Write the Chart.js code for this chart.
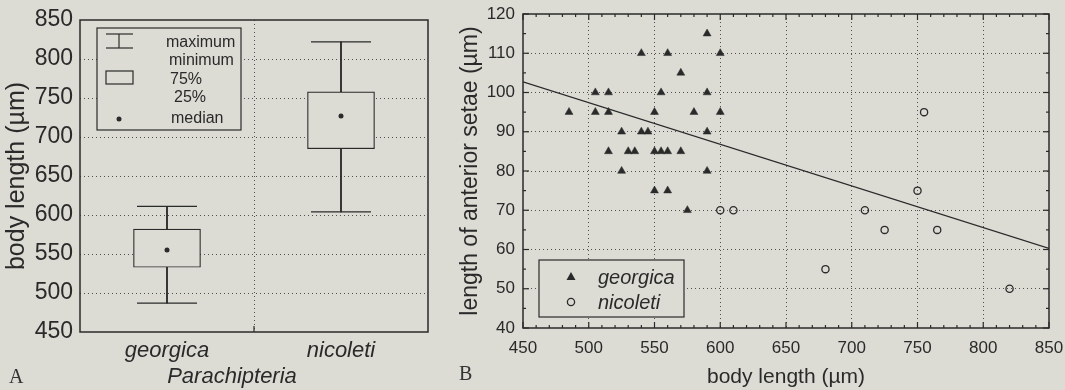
<!DOCTYPE html>
<html>
<head>
<meta charset="utf-8">
<script src="https://cdn.jsdelivr.net/npm/chart.js@4.4.1/dist/chart.umd.min.js"></script>
<style>
  html, body { margin: 0; padding: 0; background: #dcdcd5; }
  #wrap { position: relative; width: 1065px; height: 390px; overflow: hidden; }
  .panel { position: absolute; top: 0; height: 390px; }
  #panelA { left: 0; width: 445px; }
  #panelB { left: 445px; width: 620px; }
  .tag { position: absolute; font-family: "Liberation Serif", "DejaVu Serif", serif; font-size: 20px; color: #333; }
</style>
</head>
<body>
<div id="wrap">
  <div class="panel" id="panelA"><canvas id="chartA"></canvas></div>
  <div class="panel" id="panelB"><canvas id="chartB"></canvas></div>
  <div class="tag" style="left:9px; top:365px">A</div>
  <div class="tag" style="left:459px; top:362px">B</div>
</div>
<script>
// panel A: body length box plot
const species = ["georgica", "nicoleti"];
const bodyMin = [487, 604];
const bodyQ1 = [533, 685];
const bodyMedian = [555, 727];
const bodyQ3 = [582, 758];
const bodyMax = [611, 822];
const bodyTicks = [450, 850, 50];

// panel B: setae length vs body length
const georgicaBody = [590, 540, 560, 600, 570, 505, 515, 555, 590, 485, 505, 515, 550, 580, 600,
  525, 540, 545, 590, 515, 530, 535, 550, 555, 560, 570, 525, 590, 550, 560, 575];
const georgicaSetae = [115, 110, 110, 110, 105, 100, 100, 100, 100, 95, 95, 95, 95, 95, 95,
  90, 90, 90, 90, 85, 85, 85, 85, 85, 85, 85, 80, 80, 75, 75, 70];
const nicoletiBody = [600, 610, 710, 725, 765, 750, 755, 680, 820];
const nicoletiSetae = [70, 70, 70, 65, 65, 75, 95, 55, 50];
const fitBody = [450, 850];
const fitSetae = [102.7, 60.3];
const xTicksB = [450, 850, 50];
const yTicksB = [40, 120, 10];

const BG = "#dcdcd5";
const INK = "#2a2a2a";
const GRID = "#505050";
const FONT = '"Liberation Sans", Arial, sans-serif';

Chart.defaults.font.family = FONT;
Chart.defaults.color = INK;

// the wide whisker caps would otherwise push the plot area inwards
Chart.LineController.prototype.getMaxOverflow = function () { return 0; };

function line(ctx, x1, y1, x2, y2) {
  ctx.beginPath();
  ctx.moveTo(x1, y1);
  ctx.lineTo(x2, y2);
  ctx.stroke();
}

// fixed axis size, and no extra label padding so the plot area is set by layout.padding
function fixSize(w, h) {
  return s => {
    if (w) s.width = w;
    if (h) s.height = h;
    s.paddingTop = s.paddingBottom = s.paddingLeft = s.paddingRight = 0;
  };
}

// frame round the plot area plus small inward ticks
const framePlugin = {
  id: "frame",
  afterDatasetsDraw(chart, args, opts) {
    const { ctx, chartArea: a } = chart;
    ctx.save();
    ctx.strokeStyle = INK;
    ctx.lineWidth = 1.5;
    ctx.strokeRect(a.left, a.top, a.right - a.left, a.bottom - a.top);
    ctx.lineWidth = 1.2;
    (opts.ticks || []).forEach(t => {
      const s = chart.scales[t.axis];
      for (let v = t.from; v <= t.to; v += t.step) {
        const len = (t.major && (v - t.from) % t.major === 0) ? 6 : 3;
        const p = s.getPixelForValue(v);
        if (t.axis === "x") {
          line(ctx, p, a.bottom, p, a.bottom - len);
          if (t.both) line(ctx, p, a.top, p, a.top + len);
        } else {
          line(ctx, a.left, p, a.left + len, p);
          if (t.both) line(ctx, a.right, p, a.right - len, p);
        }
      }
    });
    ctx.restore();
  }
};

// legend of the box plot, drawn inside the plot area
const boxLegendPlugin = {
  id: "boxLegend",
  afterDatasetsDraw(chart) {
    const { ctx, chartArea: a } = chart;
    const x0 = a.left + 17, y0 = a.top + 8;
    ctx.save();
    ctx.fillStyle = BG;
    ctx.fillRect(x0, y0, 144, 102);
    ctx.strokeStyle = INK;
    ctx.lineWidth = 1.2;
    ctx.strokeRect(x0, y0, 144, 102);
    // whisker symbol
    line(ctx, x0 + 9, y0 + 6, x0 + 36, y0 + 6);
    line(ctx, x0 + 9, y0 + 20, x0 + 36, y0 + 20);
    line(ctx, x0 + 22, y0 + 6, x0 + 22, y0 + 20);
    // box symbol
    ctx.strokeRect(x0 + 9, y0 + 43, 27, 13);
    // median symbol
    ctx.fillStyle = INK;
    ctx.beginPath();
    ctx.arc(x0 + 22, y0 + 91, 2.5, 0, Math.PI * 2);
    ctx.fill();
    ctx.font = "16px " + FONT;
    ctx.textBaseline = "middle";
    ctx.fillText("maximum", x0 + 69, y0 + 15);
    ctx.fillText("minimum", x0 + 72, y0 + 33);
    ctx.fillText("75%", x0 + 73, y0 + 52);
    ctx.fillText("25%", x0 + 77, y0 + 70);
    ctx.fillText("median", x0 + 74, y0 + 91);
    // tick between the two groups
    const mid = chart.scales.x.getPixelForValue(0.5);
    line(ctx, mid, a.bottom, mid, a.bottom - 6);
    ctx.restore();
  }
};

// legend of the scatter plot
const scatterLegendPlugin = {
  id: "scatterLegend",
  afterDatasetsDraw(chart) {
    const { ctx, chartArea: a } = chart;
    const x0 = a.left + 16, y0 = a.bottom - 68;
    ctx.save();
    ctx.fillStyle = BG;
    ctx.fillRect(x0, y0, 145, 57);
    ctx.strokeStyle = INK;
    ctx.lineWidth = 1.2;
    ctx.strokeRect(x0, y0, 145, 57);
    const px = x0 + 32;
    // triangle
    ctx.fillStyle = INK;
    ctx.beginPath();
    ctx.moveTo(px, y0 + 12);
    ctx.lineTo(px + 4.5, y0 + 20);
    ctx.lineTo(px - 4.5, y0 + 20);
    ctx.closePath();
    ctx.fill();
    // circle
    ctx.lineWidth = 1.3;
    ctx.beginPath();
    ctx.arc(px, y0 + 42, 3.6, 0, Math.PI * 2);
    ctx.stroke();
    ctx.font = "italic 20px " + FONT;
    ctx.textBaseline = "middle";
    ctx.fillText("georgica", x0 + 59, y0 + 18);
    ctx.fillText("nicoleti", x0 + 59, y0 + 43);
    ctx.restore();
  }
};

const dotted = { dash: [1, 3], display: false };

new Chart(document.getElementById("chartA"), {
  data: {
    labels: species,
    datasets: [
      {
        type: "bar",
        data: species.map((_, i) => [bodyQ3[i], bodyMax[i]]),
        backgroundColor: INK,
        barThickness: 1.2,
        grouped: false,
        order: 3
      },
      {
        type: "bar",
        data: species.map((_, i) => [bodyMin[i], bodyQ1[i]]),
        backgroundColor: INK,
        barThickness: 1.2,
        grouped: false,
        order: 3
      },
      {
        type: "bar",
        data: species.map((_, i) => [bodyQ1[i], bodyQ3[i]]),
        backgroundColor: BG,
        borderColor: INK,
        borderWidth: 1.2,
        borderSkipped: false,
        barThickness: 67,
        grouped: false,
        order: 2
      },
      {
        type: "line",
        data: bodyMax,
        showLine: false,
        pointStyle: "line",
        pointRadius: 30,
        pointBorderWidth: 1.2,
        pointBorderColor: INK,
        order: 1
      },
      {
        type: "line",
        data: bodyMin,
        showLine: false,
        pointStyle: "line",
        pointRadius: 30,
        pointBorderWidth: 1.2,
        pointBorderColor: INK,
        order: 1
      },
      {
        type: "line",
        data: bodyMedian,
        showLine: false,
        pointStyle: "circle",
        pointRadius: 2.5,
        pointBorderWidth: 0,
        pointBackgroundColor: INK,
        order: 0
      }
    ]
  },
  options: {
    responsive: true,
    maintainAspectRatio: false,
    animation: false,
    events: [],
    layout: { padding: { top: 20, right: 17, left: 0, bottom: 0 } },
    plugins: {
      legend: { display: false },
      tooltip: { enabled: false },
      frame: { ticks: [] }
    },
    scales: {
      x: {
        offset: true,
        grid: {
          offset: true,
          drawTicks: false,
          color: ctx => ctx.index === 1 ? GRID : "transparent"
        },
        border: dotted,
        ticks: { font: { size: 22, style: "italic" }, padding: 6, color: INK },
        title: {
          display: true,
          // trailing em spaces nudge the centred title to the left, as in the original
          text: "Parachipteria\u2003\u2003",
          font: { size: 22, style: "italic" },
          padding: { top: 0, bottom: 0 },
          color: INK
        },
        afterFit: fixSize(0, 58)
      },
      y: {
        min: bodyTicks[0],
        max: bodyTicks[1],
        ticks: { stepSize: bodyTicks[2], font: { size: 23 }, padding: 7, color: INK },
        grid: {
          drawTicks: false,
          color: ctx => (ctx.tick.value === bodyTicks[0] || ctx.tick.value === bodyTicks[1]) ? "transparent" : GRID
        },
        border: dotted,
        title: {
          display: true,
          text: "body length (µm)",
          font: { size: 25 },
          padding: { top: 2, bottom: 0 },
          color: INK
        },
        afterFit: fixSize(80, 0)
      }
    }
  },
  plugins: [framePlugin, boxLegendPlugin]
});

new Chart(document.getElementById("chartB"), {
  type: "scatter",
  data: {
    datasets: [
      {
        type: "line",
        data: fitBody.map((x, i) => ({ x, y: fitSetae[i] })),
        borderColor: INK,
        borderWidth: 1.3,
        pointRadius: 0,
        order: 2
      },
      {
        label: "georgica",
        data: georgicaBody.map((x, i) => ({ x, y: georgicaSetae[i] })),
        pointStyle: "triangle",
        pointRadius: 4.6,
        backgroundColor: INK,
        borderColor: INK,
        borderWidth: 0.5,
        order: 1
      },
      {
        label: "nicoleti",
        data: nicoletiBody.map((x, i) => ({ x, y: nicoletiSetae[i] })),
        pointStyle: "circle",
        pointRadius: 3.6,
        backgroundColor: "transparent",
        borderColor: INK,
        borderWidth: 1.3,
        order: 1
      }
    ]
  },
  options: {
    responsive: true,
    maintainAspectRatio: false,
    animation: false,
    events: [],
    layout: { padding: { top: 14, right: 16, left: 0, bottom: 0 } },
    plugins: {
      legend: { display: false },
      tooltip: { enabled: false },
      frame: {
        ticks: [
          { axis: "x", from: xTicksB[0], to: xTicksB[1], step: 10, major: 50, both: true },
          { axis: "y", from: yTicksB[0], to: yTicksB[1], step: 5, major: 10, both: true }
        ]
      }
    },
    scales: {
      x: {
        type: "linear",
        min: xTicksB[0],
        max: xTicksB[1],
        ticks: { stepSize: xTicksB[2], font: { size: 17 }, padding: 10, color: INK },
        grid: {
          drawTicks: false,
          color: ctx => (ctx.tick.value === xTicksB[0] || ctx.tick.value === xTicksB[1]) ? "transparent" : GRID
        },
        border: dotted,
        title: {
          display: true,
          text: "body length (µm)",
          font: { size: 21 },
          padding: { top: 0, bottom: 0 },
          color: INK
        },
        afterFit: fixSize(0, 62)
      },
      y: {
        min: yTicksB[0],
        max: yTicksB[1],
        ticks: { stepSize: yTicksB[2], font: { size: 17 }, padding: 8, color: INK },
        grid: {
          drawTicks: false,
          color: ctx => (ctx.tick.value === yTicksB[0] || ctx.tick.value === yTicksB[1]) ? "transparent" : GRID
        },
        border: dotted,
        title: {
          display: true,
          text: "length of anterior setae (µm)",
          font: { size: 23 },
          padding: { top: 12, bottom: 0 },
          color: INK
        },
        afterFit: fixSize(78, 0)
      }
    }
  },
  plugins: [framePlugin, scatterLegendPlugin]
});
</script>
</body>
</html>
